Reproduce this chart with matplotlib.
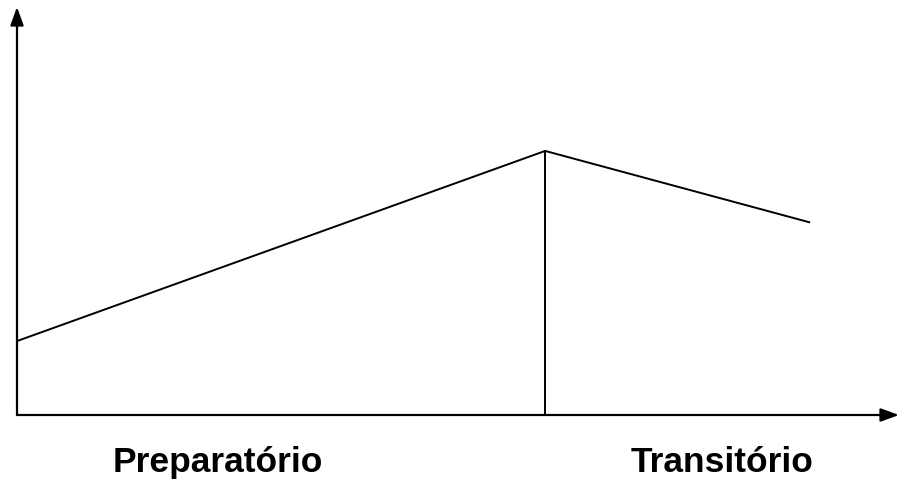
import matplotlib.pyplot as plt

# diagram data (time units along x, relative level along y)
fases_x = [0, 2, 3]
nivel = [0.28, 1.0, 0.73]
divisao_x = 2
fases = ["Preparatório", "Transitório"]
fases_pos = [0.76, 2.67]

plt.rcParams['font.family'] = ['Liberation Sans', 'DejaVu Sans']

fig = plt.figure(figsize=(8.99, 4.83), dpi=100)
ax = fig.add_axes([17/899, 68/483, 882/899, 408/483])
ax.set_xlim(0, 3.34)
ax.set_ylim(0, 1.545)
ax.axis("off")

# axes with arrow heads
ax.annotate("", xy=(1, 0), xytext=(0, 0), xycoords="axes fraction",
            arrowprops=dict(arrowstyle="-|>,head_length=1.1,head_width=0.4",
                            color="black", lw=1.6, shrinkA=0, shrinkB=0))
ax.annotate("", xy=(0, 1), xytext=(0, 0), xycoords="axes fraction",
            arrowprops=dict(arrowstyle="-|>,head_length=1.1,head_width=0.4",
                            color="black", lw=1.6, shrinkA=0, shrinkB=0))

ax.plot(fases_x, nivel, color="black", lw=1.4, solid_joinstyle="miter")
ax.plot([divisao_x, divisao_x], [0, nivel[1]], color="black", lw=1.4)

for nome, xp in zip(fases, fases_pos):
    ax.text(xp, -0.215, nome, ha="center", va="baseline", fontsize=25.5,
            fontweight="bold", clip_on=False)

fig.savefig("out.png", dpi=100)
